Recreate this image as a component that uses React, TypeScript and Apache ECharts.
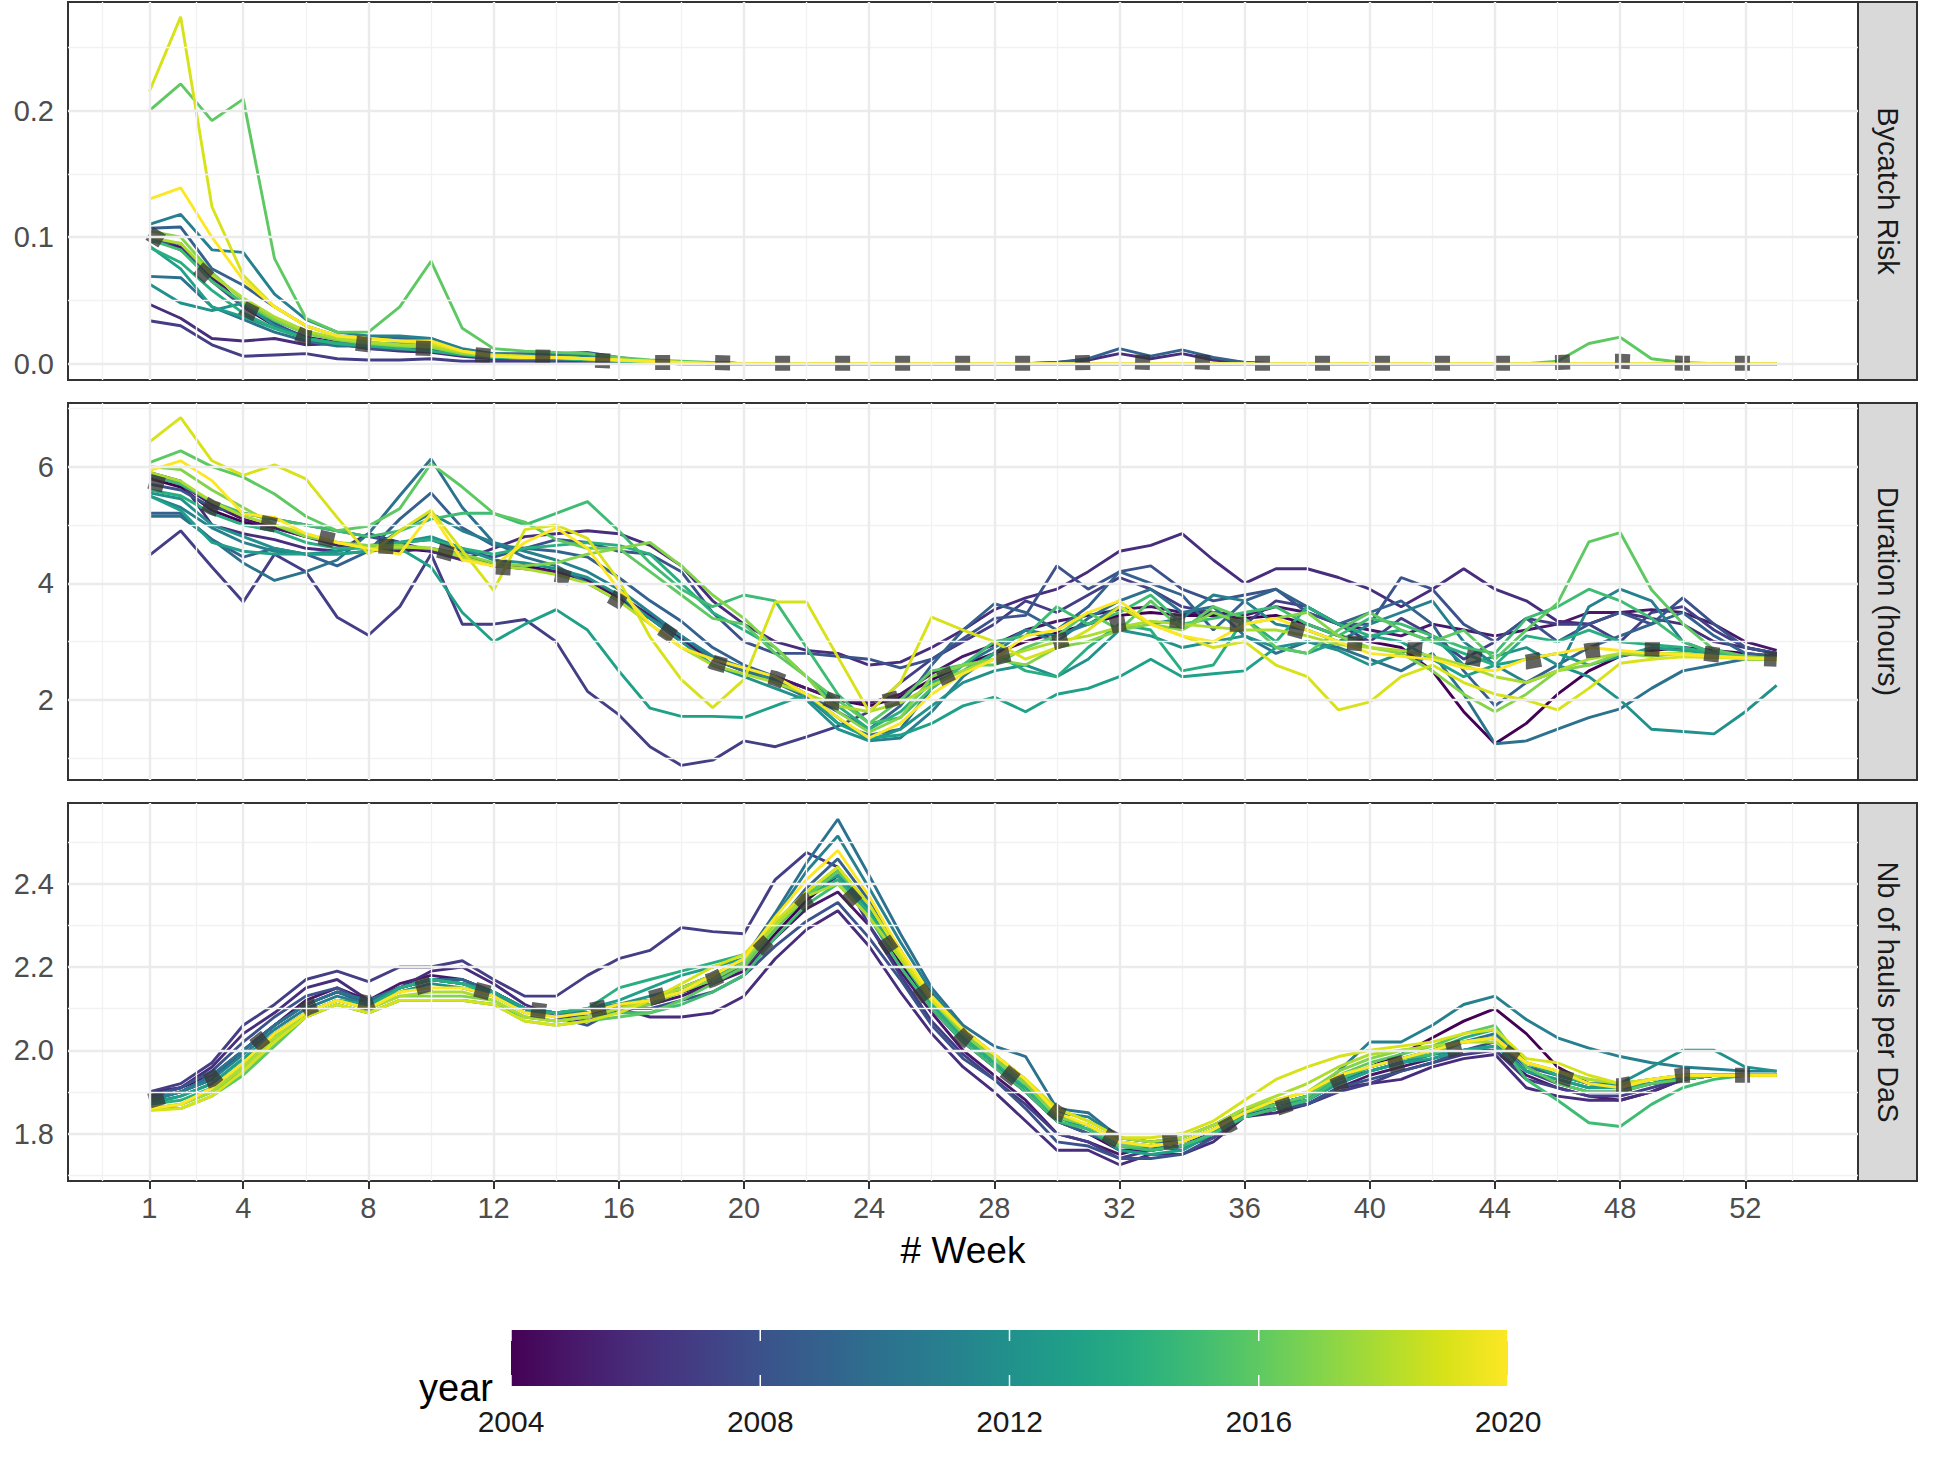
import React, { useEffect, useRef } from "react";
import * as echarts from "echarts";

const FONT = "'Liberation Sans', Arial, Helvetica, sans-serif";

// ---------- axes / categories ----------
const WEEKS = [1,2,3,4,5,6,7,8,9,10,11,12,13,14,15,16,17,18,19,20,21,22,23,24,25,26,27,28,29,30,31,32,33,34,35,36,37,38,39,40,41,42,43,44,45,46,47,48,49,50,51,52,53];
const YEARS = [2004,2005,2006,2007,2008,2009,2010,2011,2012,2013,2014,2015,2016,2017,2018,2019,2020];
const YEAR_COLORS = ["#440154","#48186a","#472d7b","#433e85","#3b528b","#34618d","#2c728e","#27808e","#21918c","#1fa088","#28ae80","#3fbc73","#5ec962","#84d44b","#addc30","#d8e219","#fde725"];
const X_BREAKS = [1,4,8,12,16,20,24,28,32,36,40,44,48,52];
const X_MINOR = [-0.5,2.5,6,10,14,18,22,26,30,34,38,42,46,50,53.5];
const PANEL_TITLES = ["Bycatch Risk","Duration (hours)","Nb of hauls per DaS"];
const Y1_BREAKS = [0,0.1,0.2];
const Y1_MINOR = [0.05,0.15,0.25];
const Y2_BREAKS = [2,4,6];
const Y2_MINOR = [1,3,5,7];
const Y3_BREAKS = [1.8,2.0,2.2,2.4];
const Y3_MINOR = [1.7,1.9,2.1,2.3,2.5];
const LEGEND_BREAKS = [2004,2008,2012,2016,2020];

// ---------- Bycatch Risk ----------
const risk2004 = [0.1,0.09,0.07,0.045,0.03,0.02,0.017,0.014,0.012,0.011, 0.008,0.006,0.005,0.004,0.003,0.002,0.001,0.001,0,0, 0,0,0,0,0,0,0,0,0,0, 0,0,0,0,0,0,0,0,0,0, 0,0,0,0,0,0,0,0,0,0, 0,0,0];
const risk2005 = [0.1,0.092,0.068,0.046,0.031,0.021,0.017,0.015,0.013,0.012, 0.008,0.006,0.005,0.004,0.003,0.002,0.001,0.001,0,0, 0,0,0,0,0,0,0,0,0,0, 0,0,0,0,0,0,0,0,0,0, 0,0,0,0,0,0,0,0,0,0, 0,0,0];
const risk2006 = [0.047,0.036,0.02,0.018,0.02,0.015,0.016,0.012,0.01,0.009, 0.006,0.004,0.003,0.003,0.003,0.002,0.001,0.001,0,0, 0,0,0,0,0,0,0,0,0,0.001, 0.003,0.008,0.004,0.008,0.003,0.001,0,0,0,0, 0,0,0,0,0,0,0,0,0,0, 0,0,0];
const risk2007 = [0.034,0.03,0.015,0.006,0.007,0.008,0.004,0.003,0.003,0.004, 0.002,0.002,0.002,0.002,0.002,0.002,0.001,0.001,0.001,0, 0,0,0,0,0,0,0,0,0,0, 0,0,0,0,0,0,0,0,0,0, 0,0,0,0,0,0,0,0,0,0, 0,0,0];
const risk2008 = [0.097,0.095,0.065,0.045,0.032,0.02,0.016,0.012,0.011,0.011, 0.007,0.005,0.005,0.004,0.004,0.003,0.002,0.001,0.001,0, 0,0,0,0,0,0,0,0,0,0, 0,0,0,0,0,0,0,0,0,0, 0,0,0,0,0,0,0,0,0,0, 0,0,0];
const risk2009 = [0.107,0.108,0.075,0.062,0.045,0.03,0.022,0.02,0.02,0.02, 0.01,0.008,0.008,0.008,0.009,0.005,0.002,0.001,0,0, 0,0,0,0,0,0,0,0,0,0.001, 0.004,0.012,0.006,0.011,0.005,0.001,0,0,0,0, 0,0,0,0,0,0,0,0,0,0, 0,0,0];
const risk2010 = [0.069,0.068,0.045,0.035,0.025,0.018,0.014,0.014,0.015,0.013, 0.008,0.006,0.006,0.006,0.007,0.004,0.002,0.001,0,0, 0,0,0,0,0,0,0,0,0,0, 0,0,0,0,0,0,0,0,0,0, 0,0,0,0,0,0,0,0,0,0, 0,0,0];
const risk2011 = [0.11,0.118,0.09,0.088,0.055,0.035,0.025,0.022,0.022,0.02, 0.012,0.008,0.007,0.007,0.006,0.004,0.002,0.001,0,0, 0,0,0,0,0,0,0,0,0,0, 0,0,0,0,0,0,0,0,0,0, 0,0,0,0,0,0,0,0,0,0, 0,0,0];
const risk2012 = [0.063,0.048,0.042,0.048,0.03,0.02,0.016,0.015,0.016,0.015, 0.009,0.006,0.005,0.005,0.004,0.003,0.001,0,0,0, 0,0,0,0,0,0,0,0,0,0, 0,0,0,0,0,0,0,0,0,0, 0,0,0,0,0,0,0,0,0,0, 0,0,0];
const risk2013 = [0.093,0.075,0.045,0.037,0.028,0.02,0.016,0.014,0.014,0.013, 0.008,0.006,0.005,0.005,0.004,0.003,0.001,0,0,0, 0,0,0,0,0,0,0,0,0,0, 0,0,0,0,0,0,0,0,0,0, 0,0,0,0,0,0,0,0,0,0, 0,0,0];
const risk2014 = [0.092,0.08,0.058,0.04,0.028,0.02,0.016,0.014,0.012,0.01, 0.007,0.005,0.004,0.004,0.003,0.002,0.001,0,0,0, 0,0,0,0,0,0,0,0,0,0, 0,0,0,0,0,0,0,0,0,0, 0,0,0,0,0,0,0,0,0,0, 0,0,0];
const risk2015 = [0.098,0.09,0.065,0.048,0.034,0.024,0.019,0.017,0.015,0.014, 0.008,0.006,0.005,0.005,0.004,0.003,0.001,0.001,0,0, 0,0,0,0,0,0,0,0,0,0, 0,0,0,0,0,0,0,0,0,0, 0,0,0,0,0,0,0,0,0,0, 0,0,0];
const risk2016 = [0.2,0.221,0.192,0.209,0.083,0.036,0.025,0.025,0.045,0.081, 0.028,0.012,0.01,0.009,0.008,0.005,0.003,0.002,0.001,0, 0,0,0,0,0,0,0,0,0,0, 0,0,0,0,0,0,0,0,0,0, 0,0,0,0,0,0.002,0.016,0.021,0.004,0.001, 0,0,0];
const risk2017 = [0.105,0.1,0.072,0.05,0.035,0.024,0.019,0.016,0.014,0.013, 0.008,0.006,0.005,0.005,0.004,0.003,0.002,0.001,0,0, 0,0,0,0,0,0,0,0,0,0, 0,0,0,0,0,0,0,0,0,0, 0,0,0,0,0,0,0,0,0,0, 0,0,0];
const risk2018 = [0.1,0.095,0.07,0.052,0.037,0.026,0.02,0.017,0.015,0.014, 0.009,0.006,0.005,0.005,0.004,0.003,0.002,0.001,0,0, 0,0,0,0,0,0,0,0,0,0, 0,0,0,0,0,0,0,0,0,0, 0,0,0,0,0,0,0,0,0,0, 0,0,0];
const risk2019 = [0.215,0.274,0.124,0.07,0.045,0.03,0.022,0.02,0.018,0.016, 0.01,0.007,0.006,0.005,0.004,0.003,0.002,0.001,0,0, 0,0,0,0,0,0,0,0,0,0, 0,0,0,0,0,0,0,0,0,0, 0,0,0,0,0,0,0,0,0,0, 0,0,0];
const risk2020 = [0.13,0.139,0.1,0.066,0.045,0.03,0.022,0.02,0.018,0.018, 0.01,0.006,0.005,0.005,0.004,0.003,0.002,0.001,0,0, 0,0,0,0,0,0,0,0,0,0, 0,0,0,0,0,0,0,0,0,0, 0,0,0,0,0,0,0,0,0,0, 0,0,0];
const riskMean = [0.103,0.088,0.066,0.044,0.032,0.021,0.018,0.015,0.013,0.012, 0.008,0.006,0.0055,0.005,0.003,0.002,0.001,0.001,0.001,0.0005, 0.0005,0.0005,0.0005,0.0005,0.0005,0.0005,0.0005,0.0005,0.0005,0.0005, 0.001,0.002,0.001,0.002,0.001,0.0005,0.0005,0.0005,0.0005,0.0005, 0.0005,0.0005,0.0005,0.0005,0.0005,0.001,0.002,0.002,0.001,0.0005, 0.0005,0.0005,0.0005];

// ---------- Duration (hours) ----------
const dur2004 = [5.8,5.65,5.25,5.05,4.95,4.8,4.7,4.6,4.6,4.55, 4.45,4.3,4.3,4.2,4.05,3.75,3.4,3.0,2.7,2.5, 2.4,2.2,2.0,1.9,2.05,2.35,2.6,2.8,3.0,3.15, 3.3,3.45,3.5,3.45,3.45,3.4,3.45,3.3,3.1,3.0, 2.9,2.5,1.8,1.25,1.6,2.1,2.5,2.75,2.85,2.9, 2.85,2.8,2.75];
const dur2005 = [5.85,5.7,5.35,5.1,4.95,4.8,4.65,4.6,4.55,4.6, 4.5,4.3,4.25,4.2,4.05,3.8,3.45,3.05,2.7,2.55, 2.4,2.2,2.0,1.95,2.1,2.45,2.75,2.95,3.2,3.35, 3.45,3.55,3.6,3.5,3.5,3.45,3.6,3.5,3.3,3.2, 3.1,3.3,3.2,3.1,3.2,3.3,3.5,3.5,3.55,3.5, 3.3,3.0,2.85];
const dur2006 = [5.9,5.75,5.0,4.85,4.75,4.6,4.55,4.85,4.7,4.55, 4.4,4.6,4.8,4.85,4.9,4.85,4.65,4.3,3.7,3.3, 3.0,2.85,2.8,2.6,2.65,2.9,3.2,3.55,3.75,3.9, 4.2,4.55,4.65,4.85,4.4,4.0,4.25,4.25,4.1,3.9, 3.6,3.9,4.25,3.9,3.7,3.35,3.3,3.5,3.4,3.3, 3.0,2.9,2.8];
const dur2007 = [4.48,4.9,4.28,3.68,4.5,4.2,3.42,3.11,3.6,4.5, 3.3,3.3,3.38,3.0,2.15,1.75,1.2,0.88,0.97,1.3, 1.2,1.37,1.55,1.8,2.3,2.7,3.0,3.3,3.7,3.5, 3.8,4.1,3.9,3.6,3.5,3.3,3.7,3.6,3.3,3.0, 3.4,3.1,2.7,3.0,3.4,3.3,3.3,3.0,3.5,3.6, 3.2,2.9,2.8];
const dur2008 = [5.7,5.6,5.3,5.2,5.1,5.0,4.9,4.8,4.7,4.75, 4.55,4.45,4.6,4.75,4.7,4.55,4.5,4.2,3.5,3.0, 2.8,2.8,2.75,2.7,2.55,2.7,3.05,3.4,3.45,4.3, 3.9,4.2,4.3,3.9,3.7,3.8,3.9,3.5,3.3,3.3, 4.1,3.9,3.3,3.0,3.4,3.0,3.3,3.5,3.3,3.75, 3.3,2.9,2.8];
const dur2009 = [5.2,5.2,4.75,4.45,4.6,4.5,4.3,4.55,5.1,5.55, 4.95,4.65,4.6,4.55,4.45,4.1,3.7,3.35,2.9,2.6, 2.4,2.1,1.8,1.5,1.9,2.6,3.2,3.65,3.5,3.2, 3.6,4.2,4.0,3.8,3.2,3.7,3.9,3.6,3.3,3.5, 3.7,3.3,2.5,1.9,2.3,2.6,2.9,3.1,3.3,3.5, 3.1,2.8,2.75];
const dur2010 = [5.15,5.15,4.75,4.35,4.05,4.2,4.4,4.85,5.5,6.13, 5.3,4.7,4.45,4.3,4.0,3.7,3.4,3.1,2.7,2.5, 2.3,2.05,1.6,1.4,1.5,2.2,2.6,2.9,3.2,3.0, 3.4,3.7,3.9,3.5,3.6,3.1,2.8,3.0,2.9,2.7, 2.5,2.8,2.1,1.25,1.3,1.5,1.7,1.85,2.2,2.5, 2.6,2.7,2.75];
const dur2011 = [5.5,5.3,4.95,4.7,4.55,4.5,4.5,4.55,4.9,5.2, 4.9,4.7,4.55,4.4,4.2,3.9,3.5,3.1,2.75,2.55, 2.35,2.1,1.7,1.3,1.35,1.8,2.4,2.8,3.2,3.1, 3.3,3.6,3.3,3.4,3.8,3.7,3.3,3.2,3.0,3.3, 3.5,3.7,3.0,2.6,2.3,2.5,3.6,3.9,3.7,3.0, 2.8,2.75,2.7];
const dur2012 = [5.55,5.45,5.0,4.8,4.6,4.5,4.55,4.65,4.7,4.8, 4.6,4.4,4.35,4.25,4.1,3.8,3.4,3.0,2.6,2.4, 2.2,2.0,1.5,1.3,1.5,1.9,2.3,2.5,2.6,2.4, 2.7,3.2,3.1,2.9,3.0,3.1,2.9,3.0,2.85,2.6, 2.8,3.1,2.6,2.75,2.9,2.6,2.4,2.0,1.5,1.46, 1.42,1.8,2.25];
const dur2013 = [5.5,5.25,4.7,4.55,4.5,4.5,4.5,4.55,4.6,4.28, 3.5,3.0,3.3,3.55,3.2,2.5,1.86,1.72,1.72,1.7, 1.9,2.1,1.6,1.35,1.4,1.6,1.9,2.05,1.8,2.1, 2.2,2.4,2.7,2.4,2.45,2.5,2.9,2.8,3.0,3.1, 3.0,2.7,2.4,2.6,2.7,2.8,2.6,2.75,2.9,2.85, 2.8,2.75,2.7];
const dur2014 = [5.6,5.5,5.2,5.0,4.9,4.7,4.6,4.6,4.7,4.75, 4.6,4.5,4.6,4.65,4.7,4.65,4.5,4.0,3.5,3.2, 2.9,2.4,1.9,1.5,1.8,2.3,2.5,2.8,2.5,2.4, 2.9,3.3,3.2,2.5,2.6,3.4,3.0,3.6,3.3,3.1, 3.2,3.0,2.8,2.6,3.1,3.0,3.2,3.0,2.95,2.9, 2.8,2.7,2.7];
const dur2015 = [5.85,5.7,5.4,5.2,5.1,5.0,4.9,4.8,4.9,5.1, 5.2,5.2,5.0,5.2,5.4,4.9,4.35,3.9,3.6,3.8, 3.7,2.9,2.1,1.6,1.7,2.2,2.6,3.0,3.1,3.6, 3.3,3.5,3.8,3.3,3.4,3.5,3.6,3.3,3.1,3.4, 3.3,3.1,2.9,2.8,3.4,3.6,3.9,3.7,3.4,3.0, 2.8,2.72,2.7];
const dur2016 = [6.07,6.27,6.0,5.82,5.53,5.15,4.9,4.98,5.28,6.05, 5.65,5.2,5.05,4.75,4.6,4.6,4.2,3.8,3.4,3.3, 2.8,2.4,2.0,1.6,2.0,2.5,2.6,2.6,2.9,3.1, 3.5,3.2,3.7,3.2,3.6,3.4,2.9,2.8,3.2,3.5, 3.2,3.0,3.2,2.7,3.2,3.66,4.71,4.87,3.89,3.31, 2.86,2.75,2.7];
const dur2017 = [6.0,5.95,5.6,5.3,5.0,4.8,4.7,4.65,4.65,4.6, 4.5,4.35,4.3,4.35,4.5,4.6,4.7,4.3,3.8,3.4, 2.9,2.4,1.8,1.45,1.7,2.4,2.6,2.7,2.6,2.9, 3.0,3.2,3.3,3.2,3.5,3.3,3.4,3.5,3.1,2.9, 2.8,2.5,2.1,1.8,2.1,2.5,2.6,2.8,2.75,2.8, 2.75,2.72,2.7];
const dur2018 = [5.9,5.75,5.4,5.15,5.0,4.85,4.7,4.6,4.62,4.6, 4.45,4.3,4.25,4.15,4.0,3.7,3.3,2.9,2.6,2.45, 2.3,2.1,1.9,1.8,1.95,2.25,2.5,2.7,2.85,3.0, 3.1,3.25,3.35,3.3,3.25,3.2,3.2,3.1,2.95,2.9, 2.85,2.75,2.6,2.4,2.3,2.5,2.7,2.8,2.8,2.8, 2.75,2.7,2.7];
const dur2019 = [6.42,6.84,6.1,5.85,6.03,5.79,5.13,4.5,4.9,5.25, 4.56,3.88,4.92,5.0,4.77,4.05,3.08,2.35,1.87,2.35, 3.68,3.68,2.74,1.8,2.3,3.42,3.2,3.0,2.7,2.9, 3.2,3.6,3.3,3.1,2.9,3.0,2.6,2.4,1.83,1.97, 2.4,2.6,2.3,2.1,2.0,1.83,2.2,2.63,2.7,2.74, 2.73,2.72,2.72];
const dur2020 = [5.93,6.1,5.76,5.19,5.13,4.85,4.7,4.6,4.5,5.2, 4.4,4.3,4.7,4.95,4.6,3.9,3.3,2.9,2.7,2.55, 2.4,2.1,1.7,1.35,1.6,2.1,2.45,2.7,3.1,3.2, 3.5,3.7,3.3,3.1,3.0,3.3,3.4,3.2,3.0,2.8, 2.75,2.7,2.55,2.5,2.7,2.8,2.9,2.85,2.8,2.78, 2.75,2.72,2.7];
const durMean = [5.75,5.6,5.3,5.1,5.0,4.85,4.72,4.65,4.62,4.6, 4.45,4.28,4.25,4.15,4.0,3.7,3.35,3.0,2.65,2.5, 2.37,2.15,1.95,1.9,2.05,2.3,2.55,2.72,2.85,3.0, 3.15,3.3,3.4,3.35,3.3,3.3,3.3,3.15,3.0,2.95, 2.9,2.85,2.75,2.65,2.65,2.75,2.85,2.9,2.88,2.85, 2.78,2.72,2.7];

// ---------- Nb of hauls per DaS ----------
const hauls2004 = [1.89,1.91,1.94,2.0,2.06,2.11,2.14,2.12,2.15,2.17, 2.16,2.14,2.1,2.09,2.09,2.1,2.12,2.14,2.16,2.2, 2.28,2.36,2.42,2.33,2.21,2.1,2.02,1.96,1.9,1.83, 1.8,1.76,1.76,1.77,1.79,1.84,1.86,1.88,1.93,1.96, 1.99,2.03,2.07,2.1,2.04,1.96,1.92,1.91,1.92,1.93, 1.94,1.94,1.94];
const hauls2005 = [1.88,1.9,1.93,2.0,2.06,2.12,2.15,2.12,2.16,2.18, 2.17,2.14,2.1,2.08,2.08,2.1,2.11,2.13,2.16,2.19, 2.27,2.34,2.38,2.3,2.19,2.09,2.0,1.94,1.88,1.8, 1.78,1.75,1.77,1.78,1.8,1.84,1.86,1.87,1.91,1.94, 1.96,1.98,2.0,2.0,1.94,1.91,1.89,1.88,1.9,1.93, 1.94,1.94,1.94];
const hauls2006 = [1.9,1.91,1.96,2.04,2.09,2.15,2.17,2.12,2.15,2.19, 2.2,2.16,2.11,2.08,2.07,2.1,2.08,2.08,2.09,2.13, 2.22,2.29,2.335,2.25,2.14,2.04,1.96,1.9,1.83,1.76, 1.76,1.725,1.75,1.75,1.78,1.84,1.85,1.87,1.91,1.92, 1.93,1.96,1.98,1.99,1.91,1.89,1.88,1.88,1.9,1.93, 1.94,1.94,1.94];
const hauls2007 = [1.9,1.92,1.97,2.06,2.11,2.17,2.19,2.165,2.2,2.2, 2.215,2.17,2.13,2.13,2.18,2.22,2.24,2.295,2.285,2.28, 2.41,2.475,2.44,2.3,2.18,2.07,1.99,1.93,1.87,1.8, 1.78,1.74,1.76,1.77,1.79,1.85,1.86,1.87,1.9,1.92, 1.95,1.97,1.99,2.0,1.93,1.91,1.89,1.89,1.91,1.93, 1.94,1.94,1.94];
const hauls2008 = [1.89,1.91,1.95,2.02,2.08,2.13,2.15,2.11,2.15,2.17, 2.17,2.14,2.1,2.08,2.06,2.1,2.1,2.12,2.14,2.18, 2.25,2.31,2.355,2.27,2.17,2.06,1.98,1.93,1.86,1.78, 1.77,1.74,1.74,1.75,1.79,1.85,1.86,1.87,1.91,1.93, 1.95,1.97,2.0,2.02,1.95,1.92,1.9,1.9,1.92,1.93, 1.94,1.94,1.94];
const hauls2009 = [1.885,1.9,1.94,2.0,2.06,2.11,2.14,2.11,2.15,2.17, 2.17,2.14,2.1,2.09,2.08,2.11,2.12,2.14,2.17,2.2, 2.3,2.39,2.46,2.36,2.24,2.12,2.03,1.97,1.9,1.83, 1.8,1.77,1.77,1.76,1.8,1.86,1.87,1.89,1.93,1.95, 1.97,1.99,2.02,2.03,1.96,1.94,1.92,1.91,1.92,1.93, 1.94,1.94,1.94];
const hauls2010 = [1.88,1.9,1.94,2.0,2.06,2.11,2.14,2.12,2.15,2.17, 2.16,2.14,2.1,2.09,2.1,2.11,2.12,2.15,2.18,2.22, 2.33,2.45,2.555,2.42,2.28,2.15,2.06,2.01,1.985,1.86, 1.85,1.79,1.78,1.78,1.81,1.85,1.87,1.89,1.93,1.96, 1.98,2.0,2.02,2.04,1.97,1.94,1.92,1.92,1.93,1.94, 1.94,1.94,1.94];
const hauls2011 = [1.88,1.9,1.93,1.99,2.05,2.1,2.13,2.11,2.15,2.17, 2.16,2.14,2.1,2.09,2.09,2.11,2.12,2.14,2.17,2.21, 2.32,2.43,2.515,2.39,2.26,2.14,2.05,1.99,1.93,1.85, 1.84,1.79,1.78,1.79,1.82,1.86,1.87,1.89,1.95,2.02, 2.02,2.06,2.11,2.13,2.074,2.03,2.005,1.985,1.97,1.96, 1.955,1.95,1.95];
const hauls2012 = [1.875,1.89,1.92,1.98,2.04,2.09,2.12,2.11,2.14,2.16, 2.15,2.13,2.1,2.09,2.1,2.11,2.13,2.15,2.18,2.21, 2.29,2.38,2.43,2.34,2.22,2.12,2.04,1.98,1.92,1.84, 1.82,1.77,1.76,1.77,1.8,1.85,1.87,1.88,1.92,1.95, 1.97,1.99,2.0,2.01,1.95,1.93,1.91,1.92,1.96,2.0, 2.0,1.96,1.95];
const hauls2013 = [1.87,1.89,1.92,1.98,2.04,2.09,2.12,2.11,2.15,2.17, 2.16,2.14,2.1,2.09,2.1,2.12,2.15,2.18,2.2,2.22, 2.3,2.38,2.42,2.33,2.22,2.11,2.03,1.98,1.92,1.84, 1.81,1.76,1.75,1.76,1.8,1.84,1.86,1.88,1.92,1.95, 1.97,1.98,2.0,2.01,1.95,1.93,1.91,1.91,1.92,1.94, 1.94,1.94,1.94];
const hauls2014 = [1.87,1.88,1.91,1.97,2.03,2.09,2.12,2.1,2.15,2.17, 2.16,2.13,2.09,2.09,2.1,2.15,2.17,2.19,2.21,2.23, 2.3,2.37,2.41,2.33,2.22,2.11,2.03,1.97,1.91,1.84, 1.82,1.78,1.77,1.78,1.81,1.85,1.87,1.89,1.93,1.96, 1.98,2.0,2.03,2.05,1.97,1.94,1.92,1.91,1.93,1.94, 1.94,1.94,1.94];
const hauls2015 = [1.86,1.87,1.9,1.95,2.02,2.08,2.11,2.09,2.12,2.12, 2.12,2.11,2.08,2.07,2.08,2.09,2.09,2.11,2.14,2.18, 2.27,2.35,2.4,2.32,2.2,2.1,2.02,1.96,1.9,1.83, 1.81,1.77,1.76,1.77,1.8,1.84,1.86,1.88,1.93,1.96, 1.98,1.99,2.02,2.03,1.93,1.88,1.826,1.817,1.87,1.91, 1.93,1.94,1.94];
const hauls2016 = [1.86,1.86,1.89,1.94,2.01,2.08,2.11,2.09,2.12,2.12, 2.12,2.11,2.07,2.06,2.07,2.08,2.09,2.12,2.16,2.2, 2.29,2.37,2.43,2.35,2.23,2.12,2.04,1.98,1.92,1.84, 1.82,1.77,1.77,1.78,1.81,1.85,1.87,1.89,1.94,1.97, 1.99,2.01,2.04,2.06,1.96,1.92,1.9,1.9,1.92,1.93, 1.94,1.94,1.94];
const hauls2017 = [1.86,1.87,1.9,1.96,2.03,2.09,2.12,2.1,2.13,2.13, 2.13,2.12,2.08,2.07,2.08,2.1,2.11,2.14,2.17,2.21, 2.3,2.38,2.44,2.35,2.23,2.12,2.04,1.98,1.92,1.84, 1.82,1.78,1.77,1.78,1.81,1.86,1.88,1.9,1.95,1.98, 2.0,2.01,2.02,2.03,1.97,1.95,1.93,1.92,1.93,1.94, 1.94,1.94,1.94];
const hauls2018 = [1.86,1.87,1.9,1.96,2.03,2.09,2.12,2.1,2.13,2.14, 2.14,2.12,2.08,2.07,2.08,2.1,2.12,2.15,2.18,2.22, 2.3,2.37,2.4,2.32,2.22,2.12,2.05,1.99,1.93,1.86, 1.83,1.79,1.78,1.79,1.82,1.86,1.89,1.92,1.96,1.99, 2.0,2.01,2.02,2.02,1.97,1.95,1.93,1.92,1.93,1.94, 1.94,1.94,1.94];
const hauls2019 = [1.855,1.86,1.89,1.95,2.02,2.08,2.11,2.09,2.12,2.12, 2.12,2.11,2.07,2.06,2.07,2.09,2.12,2.16,2.2,2.23, 2.31,2.38,2.44,2.35,2.23,2.12,2.05,1.99,1.93,1.86, 1.83,1.79,1.79,1.8,1.83,1.88,1.93,1.96,1.985,2.0, 2.01,2.02,2.04,2.05,1.98,1.97,1.94,1.92,1.93,1.94, 1.94,1.94,1.94];
const hauls2020 = [1.86,1.87,1.91,1.97,2.04,2.09,2.12,2.1,2.14,2.15, 2.15,2.13,2.09,2.08,2.09,2.11,2.12,2.14,2.18,2.22, 2.32,2.41,2.48,2.37,2.24,2.13,2.05,1.99,1.93,1.85, 1.82,1.78,1.77,1.78,1.81,1.85,1.88,1.9,1.94,1.96, 1.98,2.0,2.02,2.03,1.97,1.95,1.92,1.91,1.93,1.94, 1.94,1.94,1.94];
const haulsMean = [1.878,1.9,1.93,1.99,2.05,2.1,2.13,2.113,2.14,2.16, 2.155,2.135,2.1,2.09,2.095,2.11,2.125,2.145,2.17,2.205, 2.28,2.36,2.405,2.32,2.21,2.11,2.03,1.97,1.91,1.85, 1.82,1.78,1.775,1.785,1.8,1.84,1.86,1.885,1.92,1.95, 1.97,1.99,2.01,2.015,1.96,1.94,1.915,1.915,1.93,1.94, 1.94,1.94,1.94];

const RISK_BY_YEAR = [risk2004,risk2005,risk2006,risk2007,risk2008,risk2009,risk2010,risk2011,risk2012,risk2013,risk2014,risk2015,risk2016,risk2017,risk2018,risk2019,risk2020];
const DUR_BY_YEAR = [dur2004,dur2005,dur2006,dur2007,dur2008,dur2009,dur2010,dur2011,dur2012,dur2013,dur2014,dur2015,dur2016,dur2017,dur2018,dur2019,dur2020];
const HAULS_BY_YEAR = [hauls2004,hauls2005,hauls2006,hauls2007,hauls2008,hauls2009,hauls2010,hauls2011,hauls2012,hauls2013,hauls2014,hauls2015,hauls2016,hauls2017,hauls2018,hauls2019,hauls2020];

// ---------- layout ----------
const PLOT_LEFT = 68;
const PLOT_WIDTH = 1790;
const STRIP_WIDTH = 59;
const PANEL_BOXES = [
  { top: 2, height: 378 },
  { top: 403, height: 377 },
  { top: 803, height: 378 },
];
const X_RANGE = [-1.6, 55.6];
const Y_RANGES = [[-0.0128, 0.2857], [0.63, 7.09], [1.686, 2.594]];
const BAR = { x: 511, y: 1330, w: 997, h: 56 };

function toPoints(arr: number[]) {
  return WEEKS.map((w, i) => [w, arr[i]]);
}

function buildOption() {
  const panels = [
    { years: RISK_BY_YEAR, mean: riskMean, major: Y1_BREAKS, minor: Y1_MINOR, fmt: (v: number) => v.toFixed(1) },
    { years: DUR_BY_YEAR, mean: durMean, major: Y2_BREAKS, minor: Y2_MINOR, fmt: (v: number) => String(v) },
    { years: HAULS_BY_YEAR, mean: haulsMean, major: Y3_BREAKS, minor: Y3_MINOR, fmt: (v: number) => v.toFixed(1) },
  ];

  const grid: any[] = [];
  const xAxis: any[] = [];
  const yAxis: any[] = [];
  const series: any[] = [];
  const graphics: any[] = [];

  const majorStyle = { color: "#EBEBEB", width: 2.4, type: "solid" };
  const minorStyle = { color: "#F2F2F2", width: 1.4, type: "solid" };

  panels.forEach((p, i) => {
    const box = PANEL_BOXES[i];
    const isBottom = i === panels.length - 1;
    grid.push({
      left: PLOT_LEFT, top: box.top, width: PLOT_WIDTH, height: box.height,
      show: true, borderColor: "#333333", borderWidth: 2, backgroundColor: "#FFFFFF",
      containLabel: false,
    });
    xAxis.push({
      type: "value", gridIndex: i, min: X_RANGE[0], max: X_RANGE[1],
      axisLine: { show: false },
      splitLine: { show: false },
      axisTick: { show: isBottom, customValues: X_BREAKS, length: 8, lineStyle: { color: "#333333", width: 2 } },
      axisLabel: {
        show: isBottom, customValues: X_BREAKS, fontSize: 29, color: "#4D4D4D", fontFamily: FONT, margin: 12,
        formatter: (v: number) => String(v),
      },
    });
    yAxis.push({
      type: "value", gridIndex: i, min: Y_RANGES[i][0], max: Y_RANGES[i][1],
      axisLine: { show: false },
      splitLine: { show: false },
      axisTick: { show: true, customValues: p.major, length: 8, lineStyle: { color: "#333333", width: 2 } },
      axisLabel: { show: true, customValues: p.major, fontSize: 29, color: "#4D4D4D", fontFamily: FONT, margin: 14, formatter: p.fmt },
    });

    // grid lines through the axis scales
    series.push({
      type: "line", xAxisIndex: i, yAxisIndex: i, data: [], silent: true, z: 1, animation: false,
      markLine: {
        silent: true, animation: false, symbol: ["none", "none"], label: { show: false },
        emphasis: { disabled: true },
        data: [
          ...X_MINOR.map((v) => ({ xAxis: v, lineStyle: minorStyle })),
          ...p.minor.map((v) => ({ yAxis: v, lineStyle: minorStyle })),
          ...X_BREAKS.map((v) => ({ xAxis: v, lineStyle: majorStyle })),
          ...p.major.map((v) => ({ yAxis: v, lineStyle: majorStyle })),
        ],
      },
    });

    p.years.forEach((arr, k) => {
      series.push({
        type: "line", name: String(YEARS[k]), xAxisIndex: i, yAxisIndex: i,
        data: toPoints(arr), showSymbol: false, symbol: "none", silent: true, z: 2,
        lineStyle: { width: 2.9, color: YEAR_COLORS[k] },
        animation: false,
      });
    });

    series.push({
      type: "line", name: "mean", xAxisIndex: i, yAxisIndex: i,
      data: toPoints(p.mean), showSymbol: false, symbol: "none", silent: true, z: 3,
      lineStyle: { width: 15, color: "rgba(55,55,55,0.78)", type: [15, 45], cap: "butt", join: "miter" },
      animation: false,
    });

    // facet strip
    graphics.push({
      type: "rect", silent: true,
      shape: { x: PLOT_LEFT + PLOT_WIDTH, y: box.top, width: STRIP_WIDTH, height: box.height },
      style: { fill: "#D9D9D9", stroke: "#333333", lineWidth: 2 },
    });
    graphics.push({
      type: "text", silent: true,
      x: PLOT_LEFT + PLOT_WIDTH + STRIP_WIDTH / 2, y: box.top + box.height / 2,
      rotation: -Math.PI / 2,
      style: {
        text: PANEL_TITLES[i], fill: "#1A1A1A", font: `29px ${FONT}`,
        align: "center", verticalAlign: "middle", textAlign: "center", textVerticalAlign: "middle",
      },
    });
  });

  // x axis title
  graphics.push({
    type: "text", silent: true, x: PLOT_LEFT + PLOT_WIDTH / 2, y: 1250,
    style: { text: "# Week", fill: "#000000", font: `37px ${FONT}`, align: "center", verticalAlign: "middle", textAlign: "center", textVerticalAlign: "middle" },
  });

  // colour bar legend
  const stops = YEAR_COLORS.map((c, k) => ({ offset: k / (YEAR_COLORS.length - 1), color: c }));
  graphics.push({
    type: "rect", silent: true,
    shape: { x: BAR.x, y: BAR.y, width: BAR.w, height: BAR.h },
    style: { fill: new echarts.graphic.LinearGradient(0, 0, 1, 0, stops) },
  });
  const yrMin = YEARS[0];
  const yrMax = YEARS[YEARS.length - 1];
  LEGEND_BREAKS.forEach((yr) => {
    const x = BAR.x + ((yr - yrMin) / (yrMax - yrMin)) * BAR.w;
    graphics.push({ type: "line", silent: true, shape: { x1: x, y1: BAR.y, x2: x, y2: BAR.y + 11 }, style: { stroke: "#FFFFFF", lineWidth: 1.5 } });
    graphics.push({ type: "line", silent: true, shape: { x1: x, y1: BAR.y + BAR.h - 11, x2: x, y2: BAR.y + BAR.h }, style: { stroke: "#FFFFFF", lineWidth: 1.5 } });
    graphics.push({
      type: "text", silent: true, x, y: 1421,
      style: { text: String(yr), fill: "#1A1A1A", font: `30px ${FONT}`, align: "center", verticalAlign: "middle", textAlign: "center", textVerticalAlign: "middle" },
    });
  });
  graphics.push({
    type: "text", silent: true, x: 493, y: 1388,
    style: { text: "year", fill: "#000000", font: `38px ${FONT}`, align: "right", verticalAlign: "middle", textAlign: "right", textVerticalAlign: "middle" },
  });

  return {
    animation: false,
    backgroundColor: "#FFFFFF",
    textStyle: { fontFamily: FONT },
    grid, xAxis, yAxis, series,
    graphic: { elements: graphics },
  };
}

export default function App() {
  const ref = useRef<HTMLDivElement>(null);
  useEffect(() => {
    if (!ref.current) return;
    const chart = echarts.init(ref.current, null, { renderer: "svg" });
    chart.setOption(buildOption() as any);
    return () => chart.dispose();
  }, []);
  return (
    <div
      ref={ref}
      style={{ position: "absolute", left: 0, top: 0, width: 1946, height: 1458, background: "#FFFFFF" }}
    />
  );
}
